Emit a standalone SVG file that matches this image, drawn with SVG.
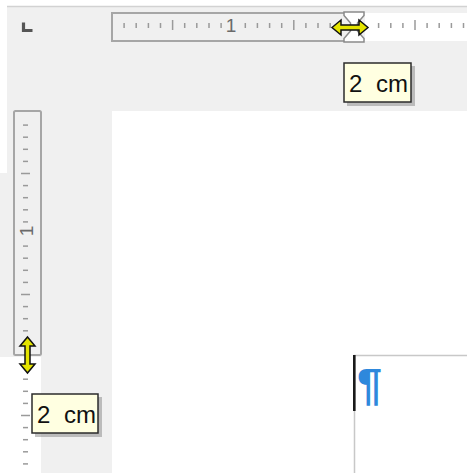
<svg xmlns="http://www.w3.org/2000/svg" width="467" height="473" viewBox="0 0 467 473">
<style>
.tick{stroke:#9a9a9a;stroke-width:1.5}
.rbox{fill:#f0f0f0;stroke:#a6a6a6;stroke-width:2}
.tip{fill:#ffffe1;stroke:#2b2b2b;stroke-width:1.5}
.shadow{fill:#7a7a7a;opacity:0.45}
.tiptext{font-family:"Liberation Sans",Arial,sans-serif;font-size:24px;fill:#111;word-spacing:7px}
.num{font-family:"Liberation Sans",Arial,sans-serif;font-size:19px;fill:#6a6a6a}
.arrow{fill:#e4e400;stroke:#111;stroke-width:1.5;stroke-linejoin:miter}
</style>
<defs>
<path id="dbl" class="arrow" d="M-18,0 L-9,-7.5 L-9,-2.5 L9,-2.5 L9,-7.5 L18,0 L9,7.5 L9,2.5 L-9,2.5 L-9,7.5 Z"/>
</defs>
<!-- background -->
<rect x="0" y="0" width="467" height="473" fill="#f0f0f0"/>
<rect x="0" y="0" width="467" height="6" fill="#ffffff"/>
<rect x="0" y="0" width="7" height="173" fill="#ffffff"/>
<line x1="7" y1="6.5" x2="467" y2="6.5" stroke="#d2d2d2" stroke-width="1.5"/>

<!-- corner tab icon -->
<g id="corner">
<path d="M23.5,22.5 V30.5 H32.5" fill="none" stroke="#555" stroke-width="3.2"/>
</g>

<!-- horizontal ruler -->
<g id="hruler">
<rect x="365" y="13" width="102" height="28" fill="#ffffff"/>
<rect class="rbox" x="112" y="13" width="243" height="28"/>
<g class="tick">
<line x1="124.1" y1="23" x2="124.1" y2="28"/>
<line x1="136.2" y1="23" x2="136.2" y2="28"/>
<line x1="148.4" y1="23" x2="148.4" y2="28"/>
<line x1="160.5" y1="23" x2="160.5" y2="28"/>
<line x1="172.6" y1="20" x2="172.6" y2="30"/>
<line x1="184.7" y1="23" x2="184.7" y2="28"/>
<line x1="196.8" y1="23" x2="196.8" y2="28"/>
<line x1="209" y1="23" x2="209" y2="28"/>
<line x1="221.1" y1="23" x2="221.1" y2="28"/>
<line x1="245.3" y1="23" x2="245.3" y2="28"/>
<line x1="257.4" y1="23" x2="257.4" y2="28"/>
<line x1="269.6" y1="23" x2="269.6" y2="28"/>
<line x1="281.7" y1="23" x2="281.7" y2="28"/>
<line x1="293.8" y1="20" x2="293.8" y2="30"/>
<line x1="305.9" y1="23" x2="305.9" y2="28"/>
<line x1="318" y1="23" x2="318" y2="28"/>
<line x1="330.2" y1="23" x2="330.2" y2="28"/>
<line x1="378.6" y1="23" x2="378.6" y2="28"/>
<line x1="390.8" y1="23" x2="390.8" y2="28"/>
<line x1="402.9" y1="23" x2="402.9" y2="28"/>
<line x1="415" y1="20" x2="415" y2="30"/>
<line x1="427.1" y1="23" x2="427.1" y2="28"/>
<line x1="439.2" y1="23" x2="439.2" y2="28"/>
<line x1="451.4" y1="23" x2="451.4" y2="28"/>
<line x1="463.5" y1="23" x2="463.5" y2="28"/>
</g>
<text class="num" x="231" y="32" text-anchor="middle">1</text>
<path d="M344,12 H364 V15.5 L357.5,23 V31 L364,38.5 V42 H344 V38.5 L350.5,31 V23 L344,15.5 Z" fill="#ffffff" stroke="#8a8a8a" stroke-width="1.5"/>
<use href="#dbl" transform="translate(350,27.5)"/>
</g>

<!-- vertical ruler -->
<g id="vruler">
<rect x="0" y="357" width="41" height="116" fill="#ffffff"/>
<rect class="rbox" x="14" y="111" width="27" height="244" rx="1.5"/>
<g class="tick">
<line x1="23" y1="125.1" x2="28" y2="125.1"/>
<line x1="23" y1="137.2" x2="28" y2="137.2"/>
<line x1="23" y1="149.3" x2="28" y2="149.3"/>
<line x1="23" y1="161.4" x2="28" y2="161.4"/>
<line x1="21" y1="173.5" x2="30" y2="173.5"/>
<line x1="23" y1="185.6" x2="28" y2="185.6"/>
<line x1="23" y1="197.7" x2="28" y2="197.7"/>
<line x1="23" y1="209.8" x2="28" y2="209.8"/>
<line x1="23" y1="221.9" x2="28" y2="221.9"/>
<line x1="23" y1="246.1" x2="28" y2="246.1"/>
<line x1="23" y1="258.2" x2="28" y2="258.2"/>
<line x1="23" y1="270.3" x2="28" y2="270.3"/>
<line x1="23" y1="282.4" x2="28" y2="282.4"/>
<line x1="21" y1="294.5" x2="30" y2="294.5"/>
<line x1="23" y1="306.6" x2="28" y2="306.6"/>
<line x1="23" y1="318.7" x2="28" y2="318.7"/>
<line x1="23" y1="330.8" x2="28" y2="330.8"/>
<line x1="23" y1="379.2" x2="28" y2="379.2"/>
<line x1="23" y1="391.3" x2="28" y2="391.3"/>
<line x1="23" y1="403.4" x2="28" y2="403.4"/>
<line x1="21" y1="415.5" x2="30" y2="415.5"/>
<line x1="23" y1="427.6" x2="28" y2="427.6"/>
<line x1="23" y1="439.7" x2="28" y2="439.7"/>
<line x1="23" y1="451.8" x2="28" y2="451.8"/>
<line x1="23" y1="463.9" x2="28" y2="463.9"/>
</g>
<text class="num" transform="translate(33,231) rotate(-90)" text-anchor="middle">1</text>
<use href="#dbl" transform="translate(27.5,355) rotate(90)"/>
</g>

<!-- page -->
<g id="page">
<rect x="112" y="111" width="355" height="362" fill="#ffffff"/>
<path d="M354.5,473 V355.5 H467" fill="none" stroke="#c8c8c8" stroke-width="1.5"/>
<rect x="353" y="355" width="2.6" height="56" fill="#1a1a1a"/>
<text x="357" y="400" font-family="Liberation Sans, Arial, sans-serif" font-size="45" font-weight="bold" fill="#2e88dc">¶</text>
</g>

<!-- tooltips -->
<g id="tooltip-h">
<rect class="shadow" x="347" y="66" width="68" height="40"/>
<rect class="tip" x="344" y="63" width="67" height="39"/>
<text class="tiptext" x="349" y="92">2 cm</text>
</g>
<g id="tooltip-v">
<rect class="shadow" x="35" y="397" width="67" height="40"/>
<rect class="tip" x="32" y="394" width="66" height="39"/>
<text class="tiptext" x="37" y="423">2 cm</text>
</g>
</svg>
